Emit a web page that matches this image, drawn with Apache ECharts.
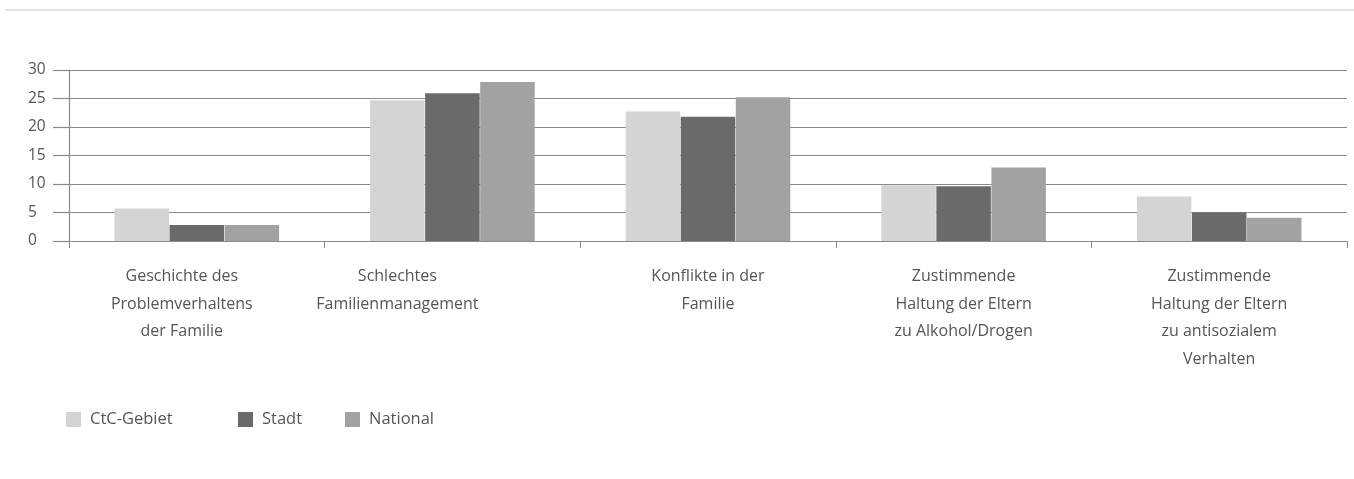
<!DOCTYPE html>
<html><head><meta charset="utf-8">
<script src="https://cdn.jsdelivr.net/npm/echarts@6/dist/echarts.min.js"></script>
<style>html,body{margin:0;padding:0;background:#fff}#c{width:1354px;height:479px}</style>
</head><body><div id="c"></div>
<script>
const categories = [
  'Geschichte des\nProblemverhaltens\nder Familie',
  'Schlechtes\nFamilienmanagement',
  'Konflikte in der\nFamilie',
  'Zustimmende\nHaltung der Eltern\nzu Alkohol/Drogen',
  'Zustimmende\nHaltung der Eltern\nzu antisozialem\nVerhalten'
];
const seriesNames = ['CtC-Gebiet', 'Stadt', 'National'];
const ctc = [5.7, 24.7, 22.7, 9.8, 7.8];
const stadt = [2.8, 25.9, 21.8, 9.6, 5.0];
const national = [2.8, 27.9, 25.2, 12.9, 4.1];
const yTicks = [0, 5, 10, 15, 20, 25, 30];

const colors = ['#d4d4d4', '#6a6a6a', '#a2a2a2'];
const labelShift = [30, 110, 0, 0, 0];
const font = '"Open Sans", sans-serif';
const txt = '#555';
const catSize = 16;

const chart = echarts.init(document.getElementById('c'));
const legendPos = [66, 238, 345];
chart.setOption({
  animation: false,
  graphic: [{type: 'line', shape: {x1: 5, y1: 10, x2: 1354, y2: 10}, style: {stroke: '#e2e2e2', lineWidth: 2}}],
  legend: seriesNames.map((n, i) => ({
    data: [n], left: legendPos[i], top: 411, padding: 0, itemWidth: 15, itemHeight: 15, itemGap: 0,
    textStyle: {fontFamily: font, fontSize: 16.5, color: txt, padding: [0, 0, 0, 4]},
    icon: 'rect'
  })),
  grid: {left: 69, right: 7, top: 70, bottom: 238},
  xAxis: {
    type: 'category', data: categories,
    axisLine: {lineStyle: {color: '#8a8a8a', width: 1.2}},
    axisTick: {show: true, length: 7, lineStyle: {color: '#8a8a8a'}},
    axisLabel: {
      fontFamily: font, fontSize: catSize, color: txt, lineHeight: 27.5, margin: 22,
      formatter: (v, i) => '{s' + i + '|' + v + '}',
      rich: Object.fromEntries(labelShift.map((p, i) => ['s' + i, {fontFamily: font, fontSize: catSize, color: txt, lineHeight: 27.5, padding: [0, p, 0, 0], align: 'center'}]))
    }
  },
  yAxis: {
    type: 'value', min: 0, max: 30, interval: 5,
    axisLine: {show: true, lineStyle: {color: '#8a8a8a', width: 1.2}},
    axisTick: {show: true, length: 16, lineStyle: {color: '#8a8a8a', width: 1.2}},
    splitLine: {lineStyle: {color: '#8a8a8a', width: 1.2}},
    axisLabel: {fontFamily: font, fontSize: 15.5, color: txt, margin: 41, align: 'left',
      formatter: v => yTicks.includes(v) ? String(v) : ''}
  },
  series: [ctc, stadt, national].map((d, i) => ({
    name: seriesNames[i], type: 'bar', data: d, barWidth: 54.5, barGap: '1%',
    itemStyle: {color: colors[i]}
  }))
});
</script></body></html>
